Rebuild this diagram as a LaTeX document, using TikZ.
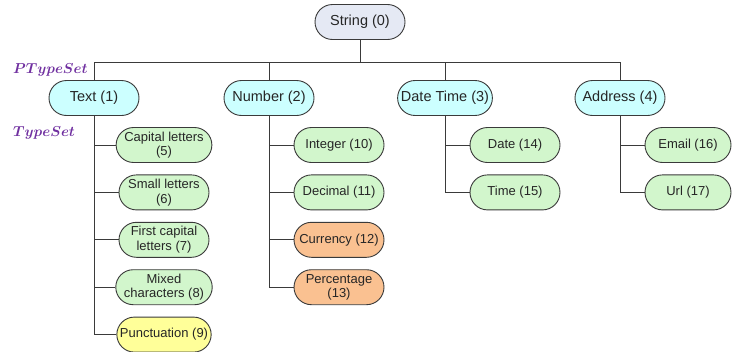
\documentclass[tikz,border=0pt]{standalone}
\usepackage{amsmath,amssymb}
\usepackage{fontspec}
\setmainfont{Liberation Sans}
\usepackage{tikz}
\usetikzlibrary{positioning,shapes.misc}

\definecolor{rootfill}{HTML}{E5E9F4}
\definecolor{grpfill}{HTML}{CCFFFF}
\definecolor{leaffill}{HTML}{D2F6CC}
\definecolor{curfill}{HTML}{FAC191}
\definecolor{punfill}{HTML}{FFFF99}
\definecolor{setlbl}{HTML}{7030A0}
\definecolor{edge}{HTML}{3A3A3A}

\begin{document}
\begin{tikzpicture}[
  x=1pt, y=1pt,
  node distance=11.5pt,
  box/.style={draw=edge, line width=0.9pt, rounded rectangle, minimum height=35pt,
    inner xsep=2pt, inner ysep=1pt, align=center, text=black!85},
  root/.style={box, fill=rootfill, minimum width=94pt, font=\fontsize{14.5}{16}\selectfont},
  grp/.style={box, fill=grpfill, minimum width=94pt, font=\fontsize{14.5}{16}\selectfont},
  leaf/.style={box, fill=leaffill, minimum width=94pt, font=\fontsize{13}{14.5}\selectfont},
  cur/.style={leaf, fill=curfill},
  pun/.style={leaf, fill=punfill},
  setname/.style={text=setlbl, font=\fontsize{15}{17}\selectfont\boldmath, inner sep=0pt},
  conn/.style={draw=edge, line width=0.9pt}
]
\useasboundingbox (0,0) rectangle (733,-351);

% root and groups
\node[root] (s0) at (360,-22) {String (0)};
\node[grp] (t1) at (94,-98) {Text (1)};
\node[grp] (n2) at (269,-98) {Number (2)};
\node[grp] (d3) at (445,-98) {Date Time (3)};
\node[grp] (a4) at (620,-98) {Address (4)};
\coordinate (bus) at (0,-62);

% leaves
\node[leaf] (c5) at (164,-145) {Capital letters\\(5)};
\node[leaf, below=of c5] (c6) {Small letters\\(6)};
\node[leaf, below=of c6] (c7) {First capital\\letters (7)};
\node[leaf, below=of c7] (c8) {Mixed\\characters (8)};
\node[pun, below=of c8] (c9) {Punctuation (9)};

\node[leaf] (n10) at (339,-145) {Integer (10)};
\node[leaf, below=of n10] (n11) {Decimal (11)};
\node[cur, below=of n11] (n12) {Currency (12)};
\node[cur, below=of n12] (n13) {Percentage\\(13)};

\node[leaf] (d14) at (515,-145) {Date (14)};
\node[leaf, below=of d14] (d15) {Time (15)};

\node[leaf, minimum width=90pt] (a16) at (688,-145) {Email (16)};
\node[leaf, minimum width=90pt, below=of a16] (a17) {Url (17)};

% set labels
\node[setname, anchor=base west] (pset) at (13,-73) {$PTypeSet$};
\node[setname, anchor=base west] (tset) at (13,-136) {$TypeSet$};

% connectors
\draw[conn] (s0.south) -- (s0.south |- bus);
\draw[conn] (t1.north |- bus) -- (a4.north |- bus);
\foreach \g in {t1,n2,d3,a4}
  \draw[conn] (\g.north |- bus) -- (\g.north);

\foreach \c in {c5,c6,c7,c8,c9}
  \draw[conn] (t1.south) |- (\c.west);
\foreach \c in {n10,n11,n12,n13}
  \draw[conn] (n2.south) |- (\c.west);
\foreach \c in {d14,d15}
  \draw[conn] (d3.south) |- (\c.west);
\foreach \c in {a16,a17}
  \draw[conn] (a4.south) |- (\c.west);
\end{tikzpicture}
\end{document}
